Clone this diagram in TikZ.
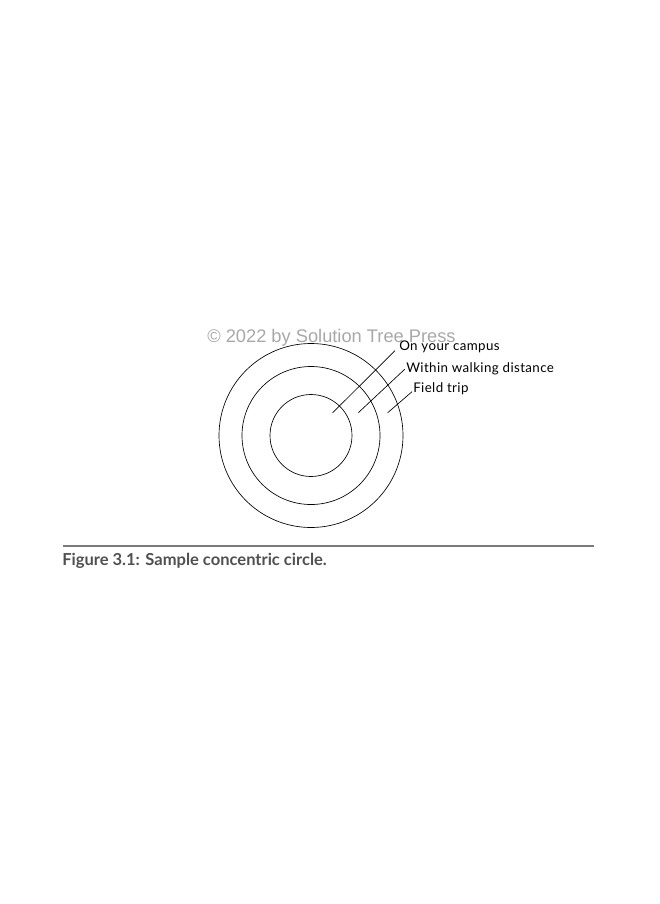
\documentclass[tikz,border=0pt]{standalone}
\usepackage{fontspec}
\setmainfont{Lato}
\newfontfamily\wmfont{Liberation Sans}
\newfontfamily\lblfont[LetterSpace=3]{Lato}
\definecolor{capgray}{HTML}{505050}
\definecolor{rulegray}{HTML}{7A7A7A}
\definecolor{wmgray}{HTML}{A8A8A8}
\begin{document}
\begin{tikzpicture}[x=0.75pt,y=-0.75pt,
  ring/.style={draw=black,line width=0.5pt},
  leader/.style={draw=black,line width=0.5pt},
  lbl/.style={anchor=base west,inner sep=0pt,font=\lblfont\fontsize{10}{11}\selectfont},
  wm/.style={anchor=base west,inner sep=0pt,text=wmgray,font=\wmfont\fontsize{13.7}{15}\selectfont},
  captext/.style={anchor=base west,inner sep=0pt,text=capgray,font=\bfseries\fontsize{12.4}{14}\selectfont}]
\useasboundingbox (0,0) rectangle (660,904);
\coordinate (c) at (311,435.5);
\draw[ring] (c) circle[radius=92];
\draw[ring] (c) circle[radius=69];
\draw[ring] (c) circle[radius=41];
\node[wm] (wm) at (207,342.5) {© 2022 by Solution Tree Press};
\node[lbl] (l1) at (399,350.5) {On your campus};
\node[lbl] (l2) at (406,372) {Within walking distance};
\node[lbl] (l3) at (413,392.5) {Field trip};
\coordinate (a1) at (332.7,412.7);
\coordinate (a2) at (358.3,412.7);
\coordinate (a3) at (387.7,412.7);
\coordinate (b1) at (395,350.7);
\coordinate (b2) at (405,369);
\coordinate (b3) at (412,391.7);
\draw[leader] (a1) -- (b1);
\draw[leader] (a2) -- (b2);
\draw[leader] (a3) -- (b3);
\coordinate (r1) at (62.5,546);
\coordinate (r2) at (594,546);
\draw[draw=rulegray,line width=1pt] (r1) -- (r2);
\node[captext] (cap) at (62,565) {Figure 3.1: Sample concentric circle.};
\end{tikzpicture}
\end{document}
